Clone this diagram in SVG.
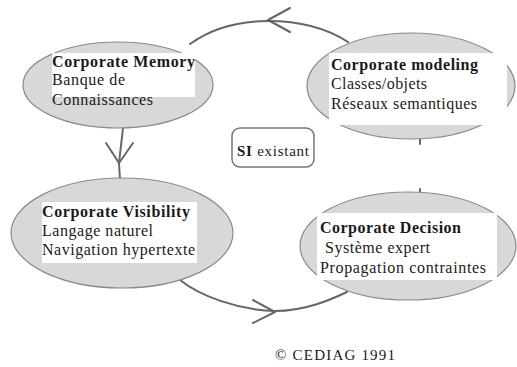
<svg xmlns="http://www.w3.org/2000/svg" width="517" height="367" viewBox="0 0 517 367">
<style>
.ell{fill:#d8d8d8;stroke:#8a8a8a;stroke-width:1.2}
.box{fill:#ffffff}
.t{font-family:"Liberation Serif","Times New Roman",serif;font-size:16px;fill:#1a1a1a}
.b{font-weight:bold}
.c{fill:none;stroke:#666;stroke-width:2;stroke-linecap:round;stroke-linejoin:round}
</style>
<rect width="517" height="367" fill="#ffffff"/>
<g id="connectors">
<path class="c" d="M190,44 C212,28 240,21 268,21 C300,21 328,29 348,42"/>
<path class="c" d="M290,8 L268,20 L290,32"/>
<path class="c" d="M123,128 L119,163 L120,180"/>
<path class="c" d="M106,143 L119,163 L133,143"/>
<path class="c" d="M180,280 C200,296 238,310 275,311 C305,311 330,300 347,292"/>
<path class="c" d="M253,300 L275,312 L253,323"/>
<path class="c" d="M420,139 L420,144"/>
<path class="c" d="M420,189 L420,194"/>
</g>
<g id="memory">
<ellipse class="ell" cx="118" cy="85" rx="95" ry="43"/>
<rect class="box" x="52" y="53" width="143" height="44"/>
<text class="t b" x="52" y="67" textLength="143" lengthAdjust="spacing">Corporate Memory</text>
<text class="t" x="52" y="85" textLength="73" lengthAdjust="spacing">Banque de</text>
<text class="t" x="52" y="105" textLength="101" lengthAdjust="spacing">Connaissances</text>
</g>
<g id="modeling">
<ellipse class="ell" cx="411" cy="86" rx="104" ry="53"/>
<rect class="box" x="329" y="53" width="178" height="72"/>
<text class="t b" x="331" y="70" textLength="147" lengthAdjust="spacing">Corporate modeling</text>
<text class="t" x="331" y="89" textLength="96" lengthAdjust="spacing">Classes/objets</text>
<text class="t" x="331" y="109" textLength="146" lengthAdjust="spacing">Réseaux semantiques</text>
</g>
<g id="si">
<rect x="232" y="128" width="82" height="39" rx="8" fill="#fff" stroke="#777" stroke-width="1.5"/>
<text class="t" x="237" y="156" textLength="72" lengthAdjust="spacing" style="font-size:15px"><tspan class="b">SI</tspan> existant</text>
</g>
<g id="visibility">
<ellipse class="ell" cx="122" cy="233" rx="111" ry="55"/>
<rect class="box" x="42" y="202" width="155" height="61"/>
<text class="t b" x="42" y="217" textLength="148" lengthAdjust="spacing">Corporate Visibility</text>
<text class="t" x="42" y="236" textLength="111" lengthAdjust="spacing">Langage naturel</text>
<text class="t" x="42" y="255" textLength="153" lengthAdjust="spacing">Navigation hypertexte</text>
</g>
<g id="decision">
<ellipse class="ell" cx="408" cy="246" rx="108" ry="54"/>
<rect class="box" x="317" y="213" width="180" height="67"/>
<text class="t b" x="320" y="233" textLength="141" lengthAdjust="spacing">Corporate Decision</text>
<text class="t" x="325" y="253" textLength="105" lengthAdjust="spacing">Système expert</text>
<text class="t" x="320" y="273" textLength="166" lengthAdjust="spacing">Propagation contraintes</text>
</g>
<g id="copyright">
<text class="t" x="275" y="360" textLength="120" lengthAdjust="spacing" style="font-size:15px">© CEDIAG 1991</text>
</g>
</svg>
